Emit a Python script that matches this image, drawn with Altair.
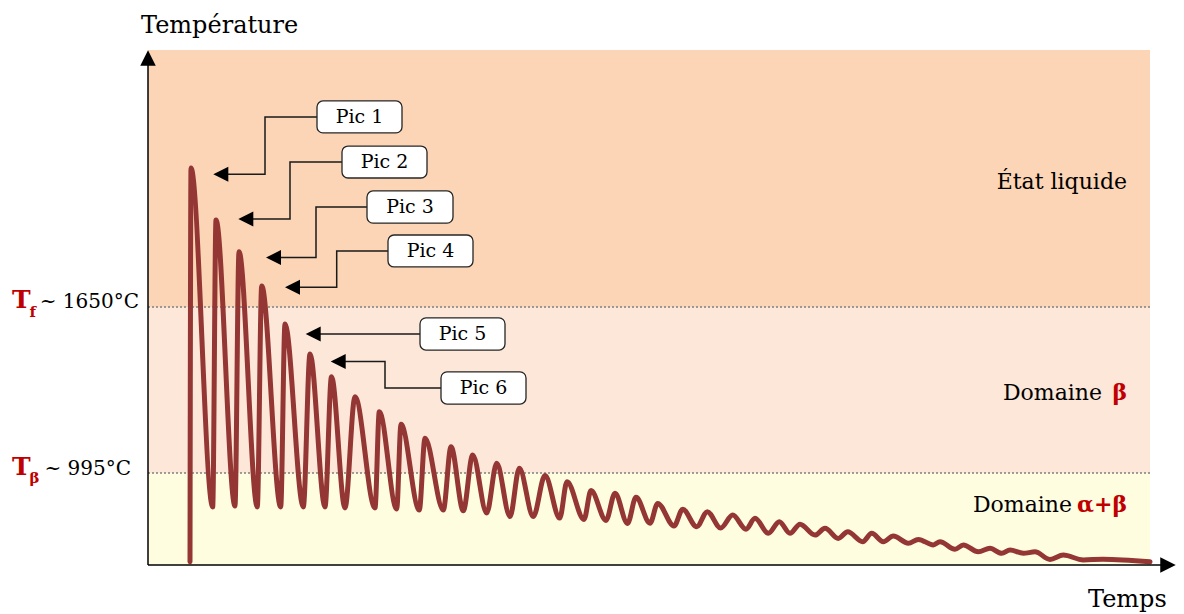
import altair as alt
import pandas as pd

FONT = "DejaVu Serif"
RED = "#C00000"
CURVE = "#943634"

# ---- data (time: arbitrary units, temperature: °C) ----
time = [42, 43, 64.7, 68, 87, 91, 109.3, 113.7, 132.7, 137, 155.3, 162, 177, 183.5,
        197, 207, 227, 231.3, 248.7, 253, 271.3, 277, 295.3, 303, 315.3, 324.7, 338.7,
        348.7, 362, 371.3, 385.3, 397, 411.7, 419, 436, 443, 458, 467, 479.5, 488, 502,
        509.7, 526, 534.7, 548.7, 559.3, 572.7, 584.7, 598, 607, 620.3, 631.3, 642, 652,
        667, 677, 690.3, 699.7, 714.7, 723.7, 735.3, 745.3, 760.3, 770.3, 785.3, 792, 807,
        815.3, 830.3, 842, 853.7, 862, 875.3, 887, 902, 915.3, 935.3, 955, 1002]
temp = [645, 2198, 861, 1993, 865, 1868, 861, 1733, 861, 1583, 861, 1465, 861, 1375,
        857, 1296, 857, 1237, 853, 1187, 849, 1132, 849, 1099, 846, 1066, 837, 1033, 823,
        1014, 823, 985, 817, 960, 812, 926, 808, 915, 796, 899, 797, 875, 786, 852, 783,
        842, 778, 829, 773, 816, 757, 803, 757, 793, 750, 777, 737, 763, 724, 757, 724,
        746, 718, 733, 711, 724, 694, 711, 684, 698, 678, 691, 678, 684, 654, 671, 652,
        655, 645]

T_F = 1650
T_BETA = 995
T_MIN, T_MAX = 632, 2664
TIME_END = 1002
TIME_MAX = 1028

zone_names = ["alpha_beta", "beta", "liquid"]
zone_lo = [T_MIN, T_BETA, T_F]
zone_hi = [T_BETA, T_F, T_MAX]
zone_colors = ["#FFFDE0", "#FDE7D8", "#FBD5B5"]

# callouts "Pic n"
pic_labels = ["Pic 1", "Pic 2", "Pic 3", "Pic 4", "Pic 5", "Pic 6"]
box_left = [169, 194, 219, 240, 272, 293]
box_right = [254, 279, 305, 325, 357, 378]
box_top = [2463, 2285, 2108, 1934, 1607, 1394]
box_bottom = [2337, 2159, 1981, 1808, 1480, 1267]
elbow_t = [117, 142, 168, 188.7, 200, 237]
arrow_T = [2174, 1997, 1845, 1728, 1543.5, 1435]
tip_t = [65.3, 90.3, 118, 137, 157.7, 182.7]

# ---- scales ----
xs = alt.Scale(domain=[0, TIME_MAX], nice=False, zero=False)
ys = alt.Scale(domain=[T_MIN, T_MAX], nice=False, zero=False)


def X(f, **k):
    return alt.X(f, scale=xs, axis=None, **k)


def Y(f, **k):
    return alt.Y(f, scale=ys, axis=None, **k)


bands_df = pd.DataFrame({"zone": zone_names, "lo": zone_lo, "hi": zone_hi,
                         "color": zone_colors, "t0": 0, "t1": TIME_END})
bands = alt.Chart(bands_df).mark_rect().encode(
    x=X("t0:Q"), x2="t1:Q", y=Y("lo:Q"), y2="hi:Q",
    color=alt.Color("color:N", scale=None))

lim_df = pd.DataFrame({"T": [T_F, T_BETA], "t0": 0, "t1": TIME_END})
limits = alt.Chart(lim_df).mark_rule(color="#808080", strokeWidth=1.5,
                                     strokeDash=[2, 2]).encode(
    x=X("t0:Q"), x2="t1:Q", y=Y("T:Q"))

curve_df = pd.DataFrame({"t": time, "T": temp, "i": range(len(time))})
curve = alt.Chart(curve_df).mark_line(interpolate="monotone", strokeWidth=5,
                                      color=CURVE, strokeCap="round",
                                      strokeJoin="round").encode(
    x=X("t:Q"), y=Y("T:Q"), order="i:Q")

# axes with arrows
axes_df = pd.DataFrame({"x0": [0, 0], "x1": [0, 1015], "y0": [T_MIN, T_MIN],
                        "y1": [2630, T_MIN]})
axes = alt.Chart(axes_df).mark_rule(color="black", strokeWidth=1.5).encode(
    x=X("x0:Q"), x2="x1:Q", y=Y("y0:Q"), y2="y1:Q")
yarrow = alt.Chart(pd.DataFrame({"t": [0], "T": [2632.5]})).mark_point(
    shape="M0,-1L1,1L-1,1Z", filled=True, size=240, color="black", opacity=1,
    strokeWidth=0).encode(x=X("t:Q"), y=Y("T:Q"))
xarrow = alt.Chart(pd.DataFrame({"t": [1020], "T": [T_MIN]})).mark_point(
    shape="M1,0L-1,-1L-1,1Z", filled=True, size=240, color="black", opacity=1,
    strokeWidth=0).encode(x=X("t:Q"), y=Y("T:Q"))

# callouts
conn_rows = []
for i, lab in enumerate(pic_labels):
    mid = (box_top[i] + box_bottom[i]) / 2
    pts = [(box_left[i], mid), (elbow_t[i], mid), (elbow_t[i], arrow_T[i]),
           (tip_t[i] + 8, arrow_T[i])]
    for k, (a, b) in enumerate(pts):
        conn_rows.append({"label": lab, "k": k, "t": a, "T": b})
conn_df = pd.DataFrame(conn_rows)
connectors = alt.Chart(conn_df).mark_line(color="#1a1a1a", strokeWidth=1.5).encode(
    x=X("t:Q"), y=Y("T:Q"), detail="label:N", order="k:Q")

heads_df = pd.DataFrame({"t": [v + 7.5 for v in tip_t], "T": arrow_T})
heads = alt.Chart(heads_df).mark_point(
    shape="M-1,0L1,-1L1,1Z", filled=True, size=225, color="black", opacity=1,
    strokeWidth=0).encode(x=X("t:Q"), y=Y("T:Q"))

box_df = pd.DataFrame({"label": pic_labels, "l": box_left, "r": box_right,
                       "top": box_top, "bot": box_bottom})
box_df["tc"] = (box_df["l"] + box_df["r"]) / 2
box_df["Tc"] = (box_df["top"] + box_df["bot"]) / 2
boxes = alt.Chart(box_df).mark_rect(fill="white", stroke="#262626", strokeWidth=1.3,
                                    cornerRadius=6).encode(
    x=X("l:Q"), x2="r:Q", y=Y("bot:Q"), y2="top:Q")
box_text = alt.Chart(box_df).mark_text(font=FONT, fontSize=19, color="black",
                                       baseline="middle", align="center").encode(
    x=X("tc:Q"), y=Y("Tc:Q"), text="label:N")

# free texts
texts = [
    # text, t, T, size, color, weight, align
    ("Température", -7, 2730, 24, "black", "normal", "left"),
    ("Temps", 940, 468, 24, "black", "normal", "left"),
    ("T", -136, 1645, 25, RED, "bold", "left"),
    ("f", -118.5, 1610, 15, RED, "bold", "left"),
    ("~ 1650°C", -9, 1646, 20, "black", "normal", "right"),
    ("T", -136, 987, 25, RED, "bold", "left"),
    ("β", -118.5, 955, 15, RED, "bold", "left"),
    ("~ 995°C", -17, 987, 20, "black", "normal", "right"),
    ("État liquide", 979, 2114, 22, "black", "normal", "right"),
    ("Domaine", 954, 1283, 22, "black", "normal", "right"),
    ("β", 979, 1283, 22, RED, "bold", "right"),
    ("Domaine", 924, 842, 22, "black", "normal", "right"),
    ("α+β", 979, 842, 22, RED, "bold", "right"),
]
text_layers = []
for (s, t, T, size, col, w, al) in texts:
    text_layers.append(
        alt.Chart(pd.DataFrame({"s": [s], "t": [t], "T": [T]})).mark_text(
            font=FONT, fontSize=size, color=col, fontWeight=w, align=al,
            baseline="alphabetic").encode(x=X("t:Q"), y=Y("T:Q"), text="s:N"))

chart = alt.layer(bands, limits, curve, axes, yarrow, xarrow, connectors, heads,
                  boxes, box_text, *text_layers).properties(
    width=TIME_MAX, height=515,
    autosize=alt.AutoSizeParams(type="none"),
    padding={"left": 140, "top": 42, "right": 0, "bottom": 48},
    background="white",
).configure_view(stroke=None)

chart.save("out.html", embed_options={"renderer": "svg", "actions": False})
